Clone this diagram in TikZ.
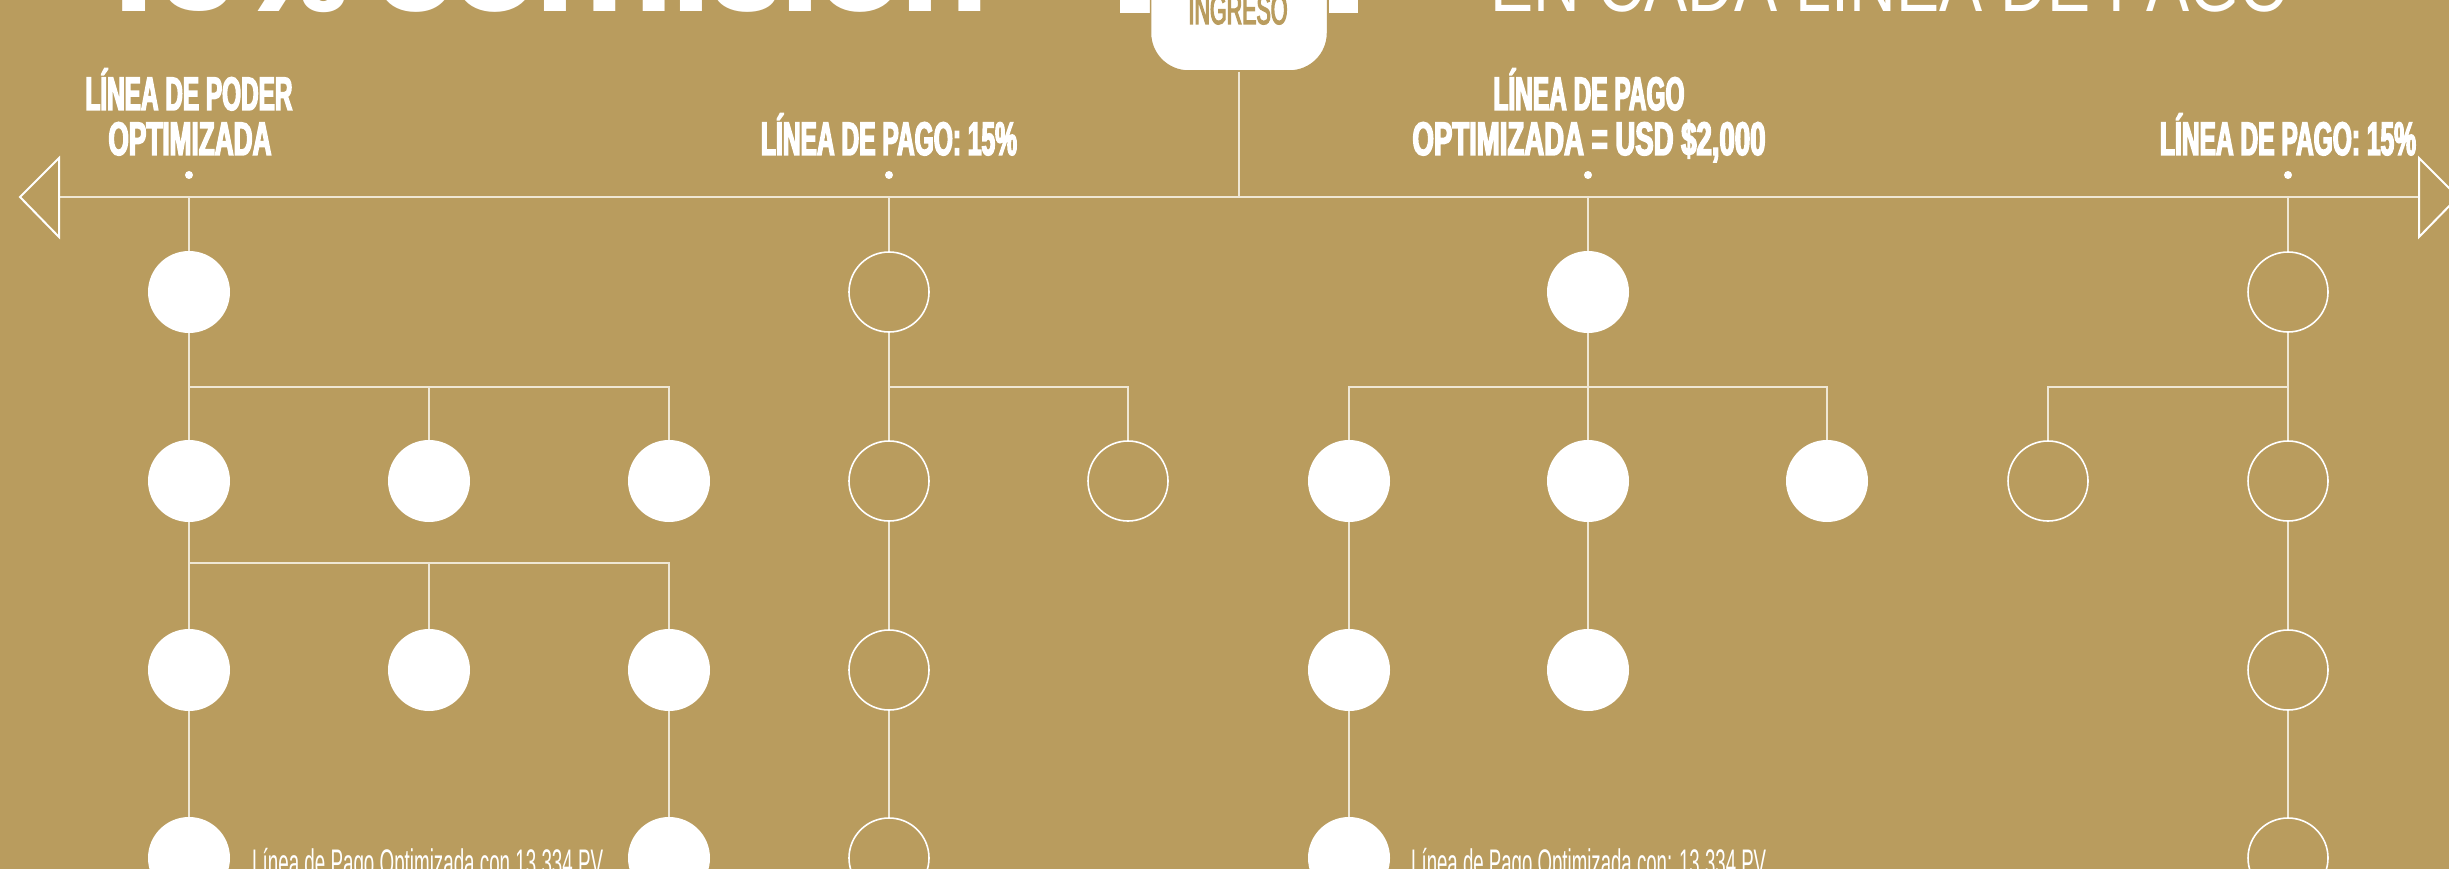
\documentclass[tikz,border=0pt]{standalone}
\usepackage{fontspec}
\usepackage{graphicx}
\setmainfont{Liberation Sans}
\newfontfamily\labfont{Liberation Sans}[FakeStretch=0.55,FakeBold=3]
\newfontfamily\poppins{Poppins}
\newcommand{\hfit}[2]{\resizebox{#1}{\height}{#2}}
\definecolor{bgc}{HTML}{B99C5E}
\definecolor{linec}{HTML}{EFE7D4}
\tikzset{
  conn/.style={draw=linec, line width=2pt},
  full/.style={circle, fill=white, minimum size=82pt, inner sep=0pt},
  hollow/.style={circle, draw=white, line width=1.6pt, minimum size=80pt, inner sep=0pt},
  pin/.style={circle, fill=white, minimum size=8pt, inner sep=0pt},
  head/.style={text=white, font=\labfont\bfseries\fontsize{47}{50}\selectfont, anchor=base, inner sep=0pt},
  note/.style={text=white, font=\fontsize{37}{40}\selectfont, anchor=base west, inner sep=0pt},
  arrowhead/.style={draw=white, line width=2pt, line join=miter},
}
\begin{document}
\begin{tikzpicture}[x=1pt,y=-1pt]
\useasboundingbox (0,0) rectangle (2449,869);
\fill[bgc] (0,0) rectangle (2449,869);
\clip (0,0) rectangle (2449,869);

% titles (cut by the top edge)
\node[anchor=base west, inner sep=0pt, text=white, font=\poppins\bfseries\fontsize{110}{110}\selectfont] (title) at (106,12) {\hfit{882pt}{15\% comisión}};
\node[anchor=base west, inner sep=0pt, text=white, font=\fontsize{80}{80}\selectfont] (subt) at (1490,12) {\hfit{800pt}{EN CADA LÍNEA DE PAGO}};

% ingreso box
\fill[white] (1120,-5) rectangle (1151,13);
\fill[white] (1329,-5) rectangle (1358,13);
\node[fill=white, draw=bgc, line width=1.5pt, rounded corners=38pt, minimum width=177pt, minimum height=150pt, inner sep=0pt] (ing) at (1239,-4) {};
\node[anchor=base, inner sep=0pt, text=bgc, font=\labfont\fontsize{42}{42}\selectfont] (ingt) at (1238,24) {\hfit{99pt}{INGRESO}};

% headings
\node[head] (h1a) at (189,110) {\hfit{207pt}{LÍNEA DE PODER}};
\node[head] (h1b) at (190,155) {\hfit{163pt}{OPTIMIZADA}};
\node[head] (h2) at (889,155) {\hfit{256pt}{LÍNEA DE PAGO: 15\%}};
\node[head] (h3a) at (1589,110) {\hfit{191pt}{LÍNEA DE PAGO}};
\node[head] (h3b) at (1589,155) {\hfit{353pt}{OPTIMIZADA = USD \$2,000}};
\node[head] (h4) at (2288,155) {\hfit{256pt}{LÍNEA DE PAGO: 15\%}};

% dots
\node[pin] (p1) at (189,175) {};
\node[pin] (p2) at (889,175) {};
\node[pin] (p3) at (1588,175) {};
\node[pin] (p4) at (2288,175) {};

% main axis with arrow heads
\coordinate (la) at (59,197);
\coordinate (ra) at (2419,197);
\draw[conn] (la) -- (ra);
\draw[arrowhead] (59,158) -- (20,197) -- (59,237) -- cycle;
\draw[arrowhead] (2419,158) -- (2458,197) -- (2419,237) -- cycle;
\coordinate (tm) at (1239,197);
\draw[conn] (ing.south) -- (tm);

% column 1
\node[full] (a11) at (189,292) {};
\node[full] (a21) at (189,481) {};
\node[full] (a22) at (429,481) {};
\node[full] (a23) at (669,481) {};
\node[full] (a31) at (189,670) {};
\node[full] (a32) at (429,670) {};
\node[full] (a33) at (669,670) {};
\node[full] (a41) at (189,858) {};
\node[full] (a43) at (669,858) {};
\coordinate (t1) at (189,197);
\coordinate (ab1) at (189,387);
\coordinate (ab2) at (189,563);
\draw[conn] (t1) -- (a11);
\draw[conn] (a11) -- (a21);
\draw[conn] (ab1) -| (a22.north);
\draw[conn] (ab1) -| (a23.north);
\draw[conn] (a21) -- (a31);
\draw[conn] (ab2) -| (a32.north);
\draw[conn] (ab2) -| (a33.north);
\draw[conn] (a31) -- (a41);
\draw[conn] (a33) -- (a43);
\node[note] (n1) at (252,875) {\hfit{351pt}{Línea de Pago Optimizada con 13.334 PV}};

% column 2
\node[hollow] (b11) at (889,292) {};
\node[hollow] (b21) at (889,481) {};
\node[hollow] (b22) at (1128,481) {};
\node[hollow] (b31) at (889,670) {};
\node[hollow] (b41) at (889,858) {};
\coordinate (t2) at (889,197);
\coordinate (bb1) at (889,387);
\draw[conn] (t2) -- (b11);
\draw[conn] (b11) -- (b21);
\draw[conn] (bb1) -| (b22.north);
\draw[conn] (b21) -- (b31);
\draw[conn] (b31) -- (b41);

% column 3
\node[full] (c11) at (1588,292) {};
\node[full] (c21) at (1349,481) {};
\node[full] (c22) at (1588,481) {};
\node[full] (c23) at (1827,481) {};
\node[full] (c31) at (1349,670) {};
\node[full] (c32) at (1588,670) {};
\node[full] (c41) at (1349,858) {};
\coordinate (t3) at (1588,197);
\coordinate (cb1) at (1588,387);
\draw[conn] (t3) -- (c11);
\draw[conn] (c11) -- (c22);
\draw[conn] (cb1) -| (c21.north);
\draw[conn] (cb1) -| (c23.north);
\draw[conn] (c21) -- (c31);
\draw[conn] (c22) -- (c32);
\draw[conn] (c31) -- (c41);
\node[note] (n2) at (1411,875) {\hfit{355pt}{Línea de Pago Optimizada con: 13.334 PV}};

% column 4
\node[hollow] (d11) at (2288,292) {};
\node[hollow] (d21) at (2048,481) {};
\node[hollow] (d22) at (2288,481) {};
\node[hollow] (d32) at (2288,670) {};
\node[hollow] (d42) at (2288,858) {};
\coordinate (t4) at (2288,197);
\coordinate (db1) at (2288,387);
\draw[conn] (t4) -- (d11);
\draw[conn] (d11) -- (d22);
\draw[conn] (db1) -| (d21.north);
\draw[conn] (d22) -- (d32);
\draw[conn] (d32) -- (d42);
\end{tikzpicture}
\end{document}
